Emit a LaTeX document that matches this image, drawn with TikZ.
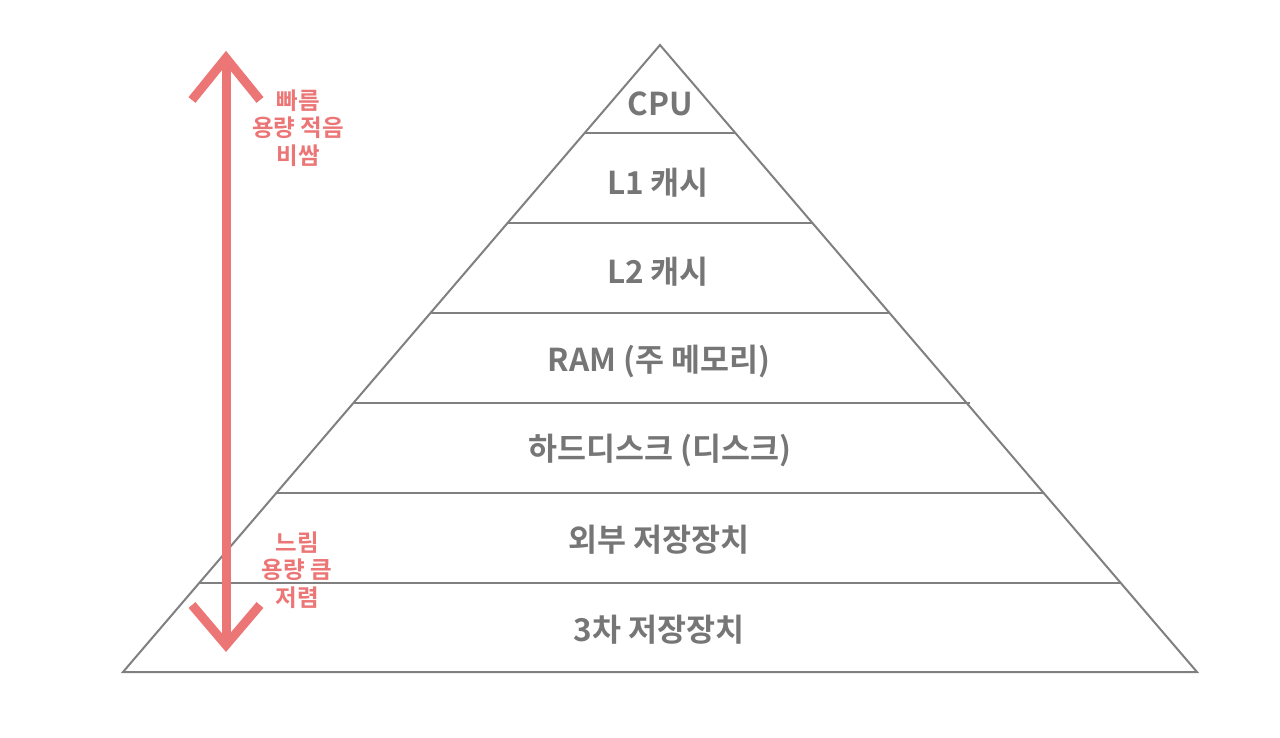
\documentclass[tikz,border=0pt]{standalone}
\usepackage{fontspec}
\newfontfamily\kr{Noto Sans CJK KR Bold}
\definecolor{pyr}{RGB}{128,128,128}
\definecolor{txt}{RGB}{118,118,118}
\definecolor{pinkred}{RGB}{236,118,118}
\begin{document}
\begin{tikzpicture}[x=1pt,y=-1pt,
  level/.style={font=\kr\fontsize{31.5}{34}\selectfont, text=txt, inner sep=0pt},
  side/.style={font=\kr\fontsize{23.5}{27.5}\selectfont, text=pinkred, align=center, inner sep=0pt},
  edge/.style={draw=pyr, line width=2pt},
  bigarrow/.style={draw=pinkred, line width=9pt}]
\useasboundingbox[fill=white] (0,0) rectangle (1280,737);
% pyramid
\coordinate (apex) at (660,45);
\coordinate (bl) at (123,672);
\coordinate (br) at (1197,672);
\draw[edge, line join=miter] (bl) -- (apex) -- (br) -- cycle;
\foreach \y in {133,223,313,493,583}{
  \pgfmathsetmacro{\dx}{0.856459*(\y-45)}
  \draw[edge] ({660-\dx},\y) -- ({660+\dx},\y);
}
\pgfmathsetmacro{\dx}{0.856459*(403-45)}
\draw[edge] ({660-\dx},403) -- (970,403);
% labels
\node[level] (cpu) at (660,104) {CPU};
\node[level] (l1) at (658,183) {L1 캐시};
\node[level] (l2) at (658,272) {L2 캐시};
\node[level] (ram) at (659,361) {RAM (주 메모리)};
\node[level] (hdd) at (660,450) {하드디스크 (디스크)};
\node[level] (ext) at (659,540) {외부 저장장치};
\node[level] (ter) at (659,630) {3차 저장장치};
% arrow
\coordinate (atop) at (226,58);
\coordinate (abot) at (226,645);
\coordinate (tl) at (192,100);
\coordinate (tr) at (260,100);
\coordinate (bl2) at (192,605);
\coordinate (br2) at (260,605);
\draw[bigarrow] (atop) -- (abot);
\draw[bigarrow, line join=miter] (tl) -- (atop) -- (tr);
\draw[bigarrow, line join=miter] (bl2) -- (abot) -- (br2);
\node[side] (fast) at (298,128) {빠름\\용량 적음\\비쌈};
\node[side] (slow) at (297,570) {느림\\용량 큼\\저렴};
\end{tikzpicture}
\end{document}
